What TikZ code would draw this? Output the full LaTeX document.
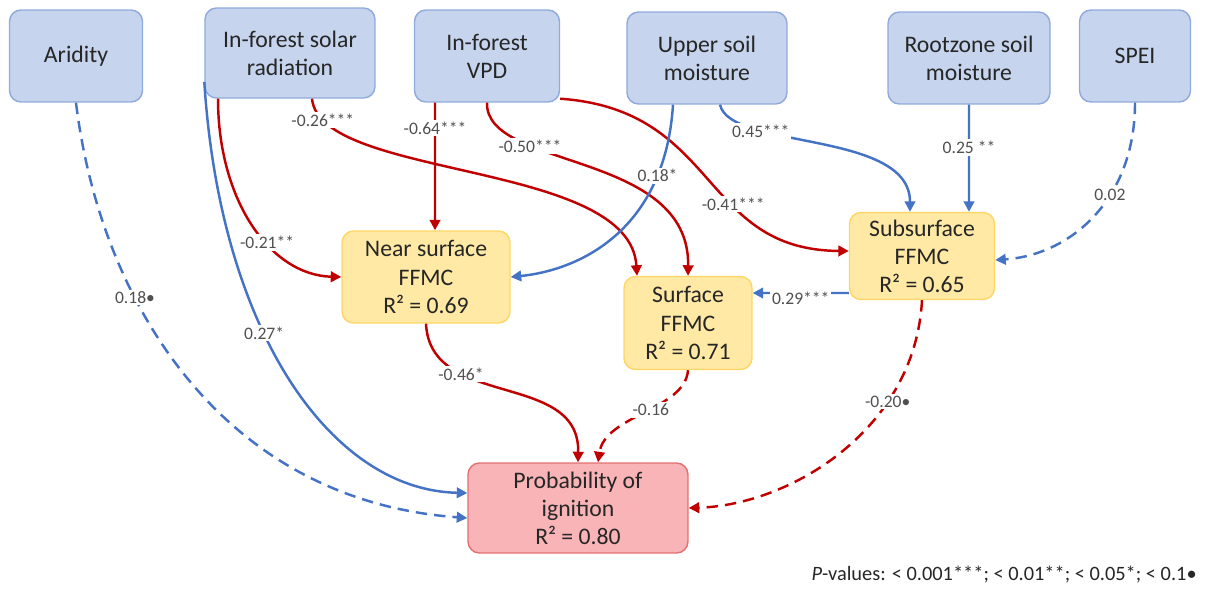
\documentclass[tikz,border=0pt]{standalone}
\usepackage{fontspec}
\setmainfont{Carlito}
\usetikzlibrary{arrows.meta}
\definecolor{boxblue}{RGB}{199,212,237}
\definecolor{edgeblue}{RGB}{143,170,220}
\definecolor{boxyellow}{RGB}{255,233,164}
\definecolor{edgeyellow}{RGB}{255,214,100}
\definecolor{boxpink}{RGB}{248,180,182}
\definecolor{edgepink}{RGB}{228,112,112}
\definecolor{posblue}{RGB}{68,114,196}
\definecolor{negred}{RGB}{192,0,0}
\definecolor{txtgray}{RGB}{80,80,80}

\begin{document}
\begin{tikzpicture}[x=0.02cm, y=-0.02cm,
    caja/.style={thick, rounded corners=6.5pt, align=center, text=black!85,
      font=\fontsize{13.5}{16}\selectfont, inner sep=2pt},
    clima/.style={caja, draw=edgeblue, fill=boxblue, minimum height=1.84cm},
    ffmc/.style={caja, draw=edgeyellow, fill=boxyellow},
    ignic/.style={caja, draw=edgepink, fill=boxpink},
    camino/.style={line width=1.4pt, -{Triangle[length=6pt,width=6pt]}},
    positivo/.style={camino, draw=posblue},
    negativo/.style={camino, draw=negred},
    ns/.style={dash pattern=on 6.5pt off 4pt},
    coef/.style={fill=white, inner sep=1pt, text=txtgray, font=\fontsize{10}{11}\selectfont}
  ]
  \useasboundingbox (0,0) rectangle (1206,589);

  % --- predictores ---
  \node[clima, minimum width=2.66cm] (arid) at (76,56) {Aridity};
  \node[clima, minimum width=3.40cm, minimum height=1.80cm] (solar) at (290,53) {In-forest solar\\radiation};
  \node[clima, minimum width=2.90cm] (vpd) at (487,56) {In-forest\\VPD};
  \node[clima, minimum width=3.20cm] (upper) at (707,58) {Upper soil\\moisture};
  \node[clima, minimum width=3.24cm] (root) at (969,58) {Rootzone soil\\moisture};
  \node[clima, minimum width=2.22cm] (spei) at (1135,56) {SPEI};

  % --- humedad del combustible ---
  \node[ffmc, minimum width=3.36cm, minimum height=1.84cm] (near) at (426,277) {Near surface\\FFMC\\R² = 0.69};
  \node[ffmc, minimum width=2.56cm, minimum height=1.86cm] (surf) at (688,323) {Surface\\FFMC\\R² = 0.71};
  \node[ffmc, minimum width=2.90cm, minimum height=1.74cm] (sub) at (922,256) {Subsurface\\FFMC\\R² = 0.65};

  % --- respuesta ---
  \node[ignic, minimum width=4.40cm, minimum height=1.80cm] (prob) at (578,508) {Probability of\\ignition\\R² = 0.80};

  % --- caminos ---
  \draw[positivo, ns] (arid.south) .. controls (100,300) and (220,500) .. ([yshift=-0.2cm]prob.west)
    node[coef, pos=0.34] {0.18•};
  \draw[positivo] ([yshift=-0.58cm]solar.west) .. controls (220,330) and (330,490) .. ([yshift=0.3cm]prob.west)
    node[coef, pos=0.4] {0.27*};
  \draw[negativo] ([xshift=-1.44cm]solar.south) .. controls (218,200) and (270,275) .. (near.west)
    node[coef, pos=0.6] {-0.21**};
  \draw[negativo] ([xshift=0.44cm]solar.south) .. controls (320,180) and (630,160) .. ([xshift=-1.02cm]surf.north)
    node[coef, pos=0.1] {-0.26***};
  \draw[negativo] ([xshift=-1.04cm]vpd.south) -- ([xshift=0.18cm]near.north)
    node[coef, pos=0.2] {-0.64***};
  \draw[negativo] (vpd.south) .. controls (485,170) and (690,150) .. (surf.north)
    node[coef, pos=0.3] {-0.50***};
  \draw[negativo] ([yshift=0.08cm]vpd.south east) .. controls (720,110) and (700,250) .. ([yshift=0.1cm]sub.west)
    node[coef, pos=0.62] {-0.41***};
  \draw[positivo] ([xshift=-0.68cm]upper.south) .. controls (665,230) and (580,270) .. (near.east)
    node[coef, pos=0.22] {0.18*};
  \draw[positivo] ([xshift=0.26cm]upper.south) .. controls (730,150) and (910,130) .. ([xshift=-0.24cm]sub.north)
    node[coef, pos=0.28] {0.45***};
  \draw[positivo] (root.south) -- ([xshift=0.94cm]sub.north)
    node[coef, pos=0.4] {0.25 **};
  \draw[positivo, ns] (spei.south) .. controls (1135,200) and (1070,255) .. ([yshift=-0.08cm]sub.east)
    node[coef, pos=0.38] {0.02};
  \draw[positivo] ([yshift=-0.74cm]sub.west) -- ([yshift=0.6cm]surf.east)
    node[coef, midway, yshift=-3pt] {0.29***};
  \draw[negativo] (near.south) .. controls (430,410) and (580,370) .. (prob.north)
    node[coef, pos=0.3] {-0.46*};
  \draw[negativo, ns] (surf.south) .. controls (685,410) and (605,415) .. ([xshift=0.4cm]prob.north)
    node[coef, pos=0.45] {-0.16};
  \draw[negativo, ns] (sub.south) .. controls (915,430) and (790,505) .. (prob.east)
    node[coef, pos=0.3] {-0.20•};

  % --- leyenda ---
  \node[anchor=east, text=black!85, font=\fontsize{11.6}{13}\selectfont, inner sep=0pt] (leyenda) at (1197,575)
    {\textit{P}-values: < 0.001***; < 0.01**; < 0.05*; < 0.1•};
\end{tikzpicture}
\end{document}
